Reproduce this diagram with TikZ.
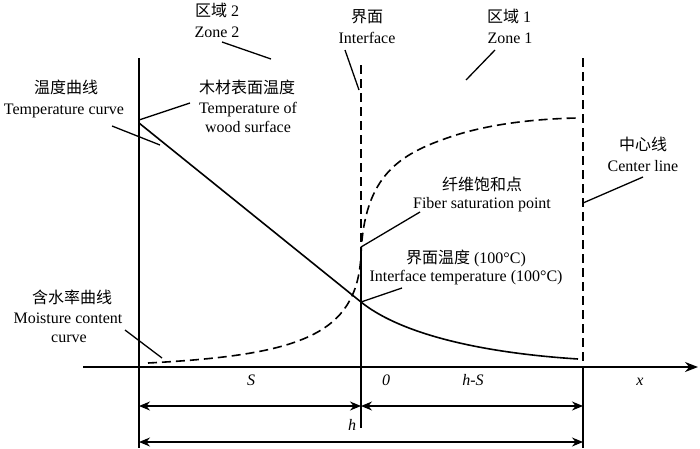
\documentclass[tikz,border=0pt]{standalone}
\usepackage{fontspec}
\setmainfont{Liberation Serif}
\newfontfamily\cjk{Noto Sans CJK SC}
\usetikzlibrary{arrows.meta}
\begin{document}
\begin{tikzpicture}[x=1pt,y=-1pt,
  lbl/.style={font=\fontsize{16}{19}\selectfont, inner sep=0pt, text height=11pt, text depth=0pt},
  ital/.style={lbl, font=\fontsize{16}{19}\selectfont\itshape},
  mainline/.style={line width=1.6pt},
  dashline/.style={line width=1.6pt, dash pattern=on 9pt off 5pt},
  leader/.style={line width=1.3pt},
  dimarrow/.style={line width=1.1pt, {Stealth[length=11pt,width=9pt]}-{Stealth[length=11pt,width=9pt]}},
  axisline/.style={line width=1.8pt, -{Stealth[length=13pt,width=10pt]}}
  ]
\useasboundingbox (0,0) rectangle (700,448);

% ---- coordinates ----
\coordinate (Ltop) at (139,58);
\coordinate (Lbot) at (139,448);
\coordinate (Itop) at (361,65);
\coordinate (Ifsp) at (361,247);
\coordinate (Ibot) at (361,428);
\coordinate (Ctop) at (583,58);
\coordinate (Caxis) at (583,367);
\coordinate (Cbot) at (583,448);
\coordinate (Axs) at (83,367);
\coordinate (Axe) at (698,367);
\coordinate (Tst) at (139,123);
\coordinate (Tif) at (361,302);
\coordinate (Tend) at (578,359);
\coordinate (Mst) at (148,363);
\coordinate (Mmid) at (361,255);
\coordinate (Mq) at (450,137);
\coordinate (Mend) at (577,118);
\coordinate (D1a) at (139,406);
\coordinate (D1b) at (361,406);
\coordinate (D1c) at (583,406);
\coordinate (D2a) at (139,442);
\coordinate (D2b) at (583,442);

% ---- main lines ----
\draw[mainline] (Ltop) -- (Lbot);
\draw[dashline] (Itop) -- (Ifsp);
\draw[mainline] (Ifsp) -- (Ibot);
\draw[dashline] (Ctop) -- (Caxis);
\draw[mainline] (Caxis) -- (Cbot);
\draw[axisline] (Axs) -- (Axe);

% temperature curve
\draw[mainline] (Tst) -- (Tif) .. controls (397,331) and (470,352) .. (Tend);
% moisture curve
\draw[dashline] (Mst) .. controls (300,355) and (357,335) .. (Mmid)
  .. controls (364,175) and (400,154) .. (Mq)
  .. controls (485,125) and (530,119) .. (Mend);

% dimension arrows
\draw[dimarrow] (D1a) -- (D1b);
\draw[dimarrow] (D1b) -- (D1c);
\draw[dimarrow] (D2a) -- (D2b);

% ---- labels ----
\node[lbl] (zone2a) at (217,11) {{\cjk 区域} 2};
\node[lbl] (zone2b) at (217,32) {Zone 2};
\node[lbl] (ifa) at (367,17) {\cjk 界面};
\node[lbl] (ifb) at (367,38) {Interface};
\node[lbl] (zone1a) at (509,17) {{\cjk 区域} 1};
\node[lbl] (zone1b) at (510,38) {Zone 1};
\node[lbl] (tca) at (66,88) {\cjk 温度曲线};
\node[lbl] (tcb) at (64,109) {Temperature curve};
\node[lbl] (wsa) at (247,88) {\cjk 木材表面温度};
\node[lbl] (wsb) at (248,108) {Temperature of};
\node[lbl] (wsc) at (248,127) {wood surface};
\node[lbl] (cla) at (643,145) {\cjk 中心线};
\node[lbl] (clb) at (643,166) {Center line};
\node[lbl] (fsa) at (482,185) {\cjk 纤维饱和点};
\node[lbl] (fsb) at (482,203) {Fiber saturation point};
\node[lbl] (ita) at (466,258) {{\cjk 界面温度} (100°C)};
\node[lbl] (itb) at (466,276) {Interface temperature (100°C)};
\node[lbl] (mca) at (72,298) {\cjk 含水率曲线};
\node[lbl] (mcb) at (68,318) {Moisture content};
\node[lbl] (mcc) at (69,337) {curve};
\node[ital] (lS) at (251,380) {S};
\node[ital] (l0) at (386,380) {0};
\node[ital] (lhS) at (473,380) {h-S};
\node[ital] (lx) at (640,380) {x};
\node[ital] (lh) at (352,425) {h};

% ---- leaders ----
\coordinate (z2s) at (222,42);  \coordinate (z2e) at (271,59);
\coordinate (ifs) at (345,50);  \coordinate (ife) at (359,90);
\coordinate (z1s) at (495,50);  \coordinate (z1e) at (466,80);
\coordinate (tcs) at (112,126); \coordinate (tce) at (160,145);
\coordinate (wss) at (190,103); \coordinate (wse) at (139,120);
\coordinate (cls) at (643,177); \coordinate (cle) at (583,203);
\coordinate (fss) at (420,212); \coordinate (fse) at (361,247);
\coordinate (its) at (402,288); \coordinate (ite) at (361,302);
\coordinate (mcs) at (125,330); \coordinate (mce) at (162,358);
\draw[leader] (z2s) -- (z2e);
\draw[leader] (ifs) -- (ife);
\draw[leader] (z1s) -- (z1e);
\draw[leader] (tcs) -- (tce);
\draw[leader] (wss) -- (wse);
\draw[leader] (cls) -- (cle);
\draw[leader] (fss) -- (fse);
\draw[leader] (its) -- (ite);
\draw[leader] (mcs) -- (mce);
\end{tikzpicture}
\end{document}
